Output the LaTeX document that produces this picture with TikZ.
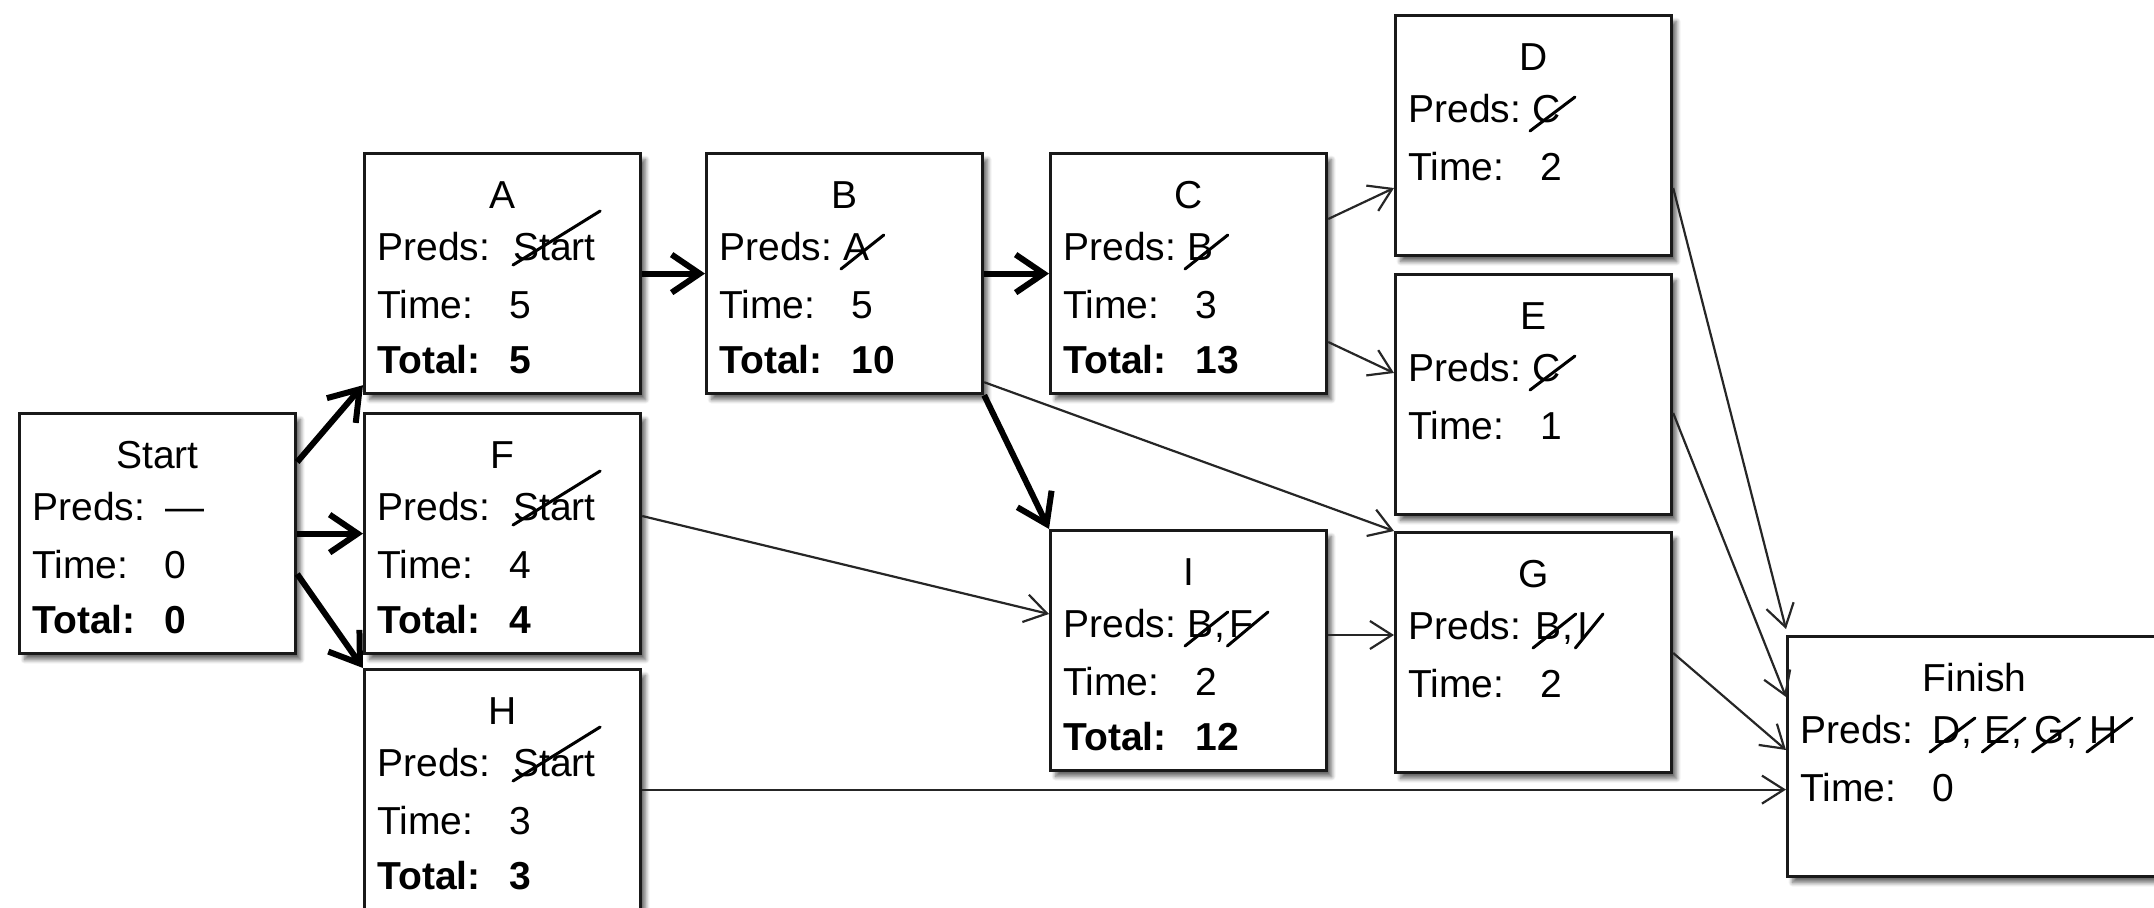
\documentclass[tikz,border=0pt]{standalone}
\usepackage{fontspec}
\setmainfont{Liberation Sans}
\usetikzlibrary{calc,arrows.meta,shadows.blur}

\newcommand\rowfont{\fontsize{19.5}{23}\selectfont}

\tikzset{
  taskbox/.style={rectangle, draw=black!90, line width=1.6pt, fill=white,
    inner sep=0pt, minimum width=138pt, minimum height=120pt, anchor=north west,
    blur shadow={shadow xshift=2.5pt, shadow yshift=-3pt, shadow blur steps=8, shadow opacity=60}},
  rowtext/.style={anchor=base west, inner sep=0pt, font=\rowfont},
  titletext/.style={anchor=base, inner sep=0pt, font=\rowfont},
  totaltext/.style={rowtext, font=\rowfont\bfseries},
  strk/.style={draw=black, line width=1.5pt, line cap=round},
  % a finished predecessor: one letter crossed by a slanted stroke
  xo/.style={rowtext, append after command={
      ([xshift=-1pt,yshift=-4.5pt]\tikzlastnode.base west) edge[strk]
      ([xshift=7pt,yshift=12.5pt]\tikzlastnode.base east)}},
  % the same for the longer word "Start"
  xoword/.style={rowtext, append after command={
      ([xshift=0pt,yshift=-2.5pt]\tikzlastnode.base west) edge[strk]
      ([xshift=2pt,yshift=24.5pt]\tikzlastnode.base east)}},
  crit/.style={draw=black, line width=3pt, -{Straight Barb[length=14pt,width=19pt]}},
  dep/.style={draw=black!85, line width=1.1pt, -{Straight Barb[length=11pt,width=14pt]}},
}

% box with its title and the two row labels
\newcommand\activity[5]{%
  \node[taskbox, minimum width=#4] (#1) at (#2,#3) {};
  \node[titletext] (#1-title) at ($(#1.north)+(0,56)$) {#5};
  \node[rowtext] (#1-preds) at ($(#1.north west)+(14,108)$) {Preds:};
  \node[rowtext] (#1-time) at ($(#1.north west)+(14,166)$) {Time:};}
\newcommand\timeonly[2]{%
  \node[rowtext] (#1-tv) at ($(#1.north west)+(146,166)$) {#2};}
\newcommand\timetotal[3]{%
  \timeonly{#1}{#2}%
  \node[totaltext] (#1-total) at ($(#1.north west)+(14,221)$) {Total:};
  \node[totaltext] (#1-tt) at ($(#1.north west)+(146,221)$) {#3};}
% first crossed predecessor, then further ones chained after a separator
\newcommand\predfirst[4]{%
  \node[xo] (#3) at ($(#1.north west)+(#2,108)$) {#4};}
\newcommand\prednext[4]{%
  \node[rowtext] (#3-sep) at (#1.base east) {#2};
  \node[xo] (#3) at (#3-sep.base east) {#4};}

\begin{document}
\begin{tikzpicture}[x=0.5pt,y=-0.5pt]
\clip (0,0) rectangle (2154,907);

% ---- activities ----
\activity{Start}{18}{412}{138pt}{Start}
\node[rowtext] (Start-p1) at ($(Start.north west)+(147,108)$) {—};
\timetotal{Start}{0}{0}

\activity{A}{363}{152}{138pt}{A}
\node[xoword] (A-p1) at ($(A.north west)+(150,108)$) {Start};
\timetotal{A}{5}{5}

\activity{F}{363}{412}{138pt}{F}
\node[xoword] (F-p1) at ($(F.north west)+(150,108)$) {Start};
\timetotal{F}{4}{4}

\activity{H}{363}{668}{138pt}{H}
\node[xoword] (H-p1) at ($(H.north west)+(150,108)$) {Start};
\timetotal{H}{3}{3}

\activity{B}{705}{152}{138pt}{B}
\predfirst{B}{138}{B-p1}{A}
\timetotal{B}{5}{10}

\activity{C}{1049}{152}{138pt}{C}
\predfirst{C}{138}{C-p1}{B}
\timetotal{C}{3}{13}

\activity{I}{1049}{529}{138pt}{I}
\predfirst{I}{138}{I-p1}{B}
\prednext{I-p1}{,\kern0.1em}{I-p2}{F}
\timetotal{I}{2}{12}

\activity{D}{1394}{14}{138pt}{D}
\predfirst{D}{138}{D-p1}{C}
\timeonly{D}{2}

\activity{E}{1394}{273}{138pt}{E}
\predfirst{E}{138}{E-p1}{C}
\timeonly{E}{1}

\activity{G}{1394}{531}{138pt}{G}
\predfirst{G}{141}{G-p1}{B}
\prednext{G-p1}{,\kern0.1em}{G-p2}{I}
\timeonly{G}{2}

\activity{Finish}{1786}{635}{187pt}{Finish}
\predfirst{Finish}{146}{Finish-p1}{D}
\prednext{Finish-p1}{,\kern0.3em}{Finish-p2}{E}
\prednext{Finish-p2}{,\kern0.3em}{Finish-p3}{G}
\prednext{Finish-p3}{,\kern0.3em}{Finish-p4}{H}
\timeonly{Finish}{0}

% ---- critical path ----
\draw[crit] ($(Start.north east)+(0,50)$) -- ($(A.south west)+(0,-10)$);
\draw[crit] (Start.east) -- (F.west);
\draw[crit] ($(Start.north east)+(0,162)$) -- (H.north west);
\draw[crit] (A.east) -- (B.west);
\draw[crit] (B.east) -- (C.west);
\draw[crit] (B.south east) -- (I.north west);

% ---- other dependencies ----
\draw[dep] ($(B.south east)+(0,-13)$) -- (G.north west);
\draw[dep] ($(F.north east)+(0,104)$) -- ($(I.north west)+(0,85)$);
\draw[dep] ($(C.north east)+(0,67)$) -- ($(D.north west)+(0,174)$);
\draw[dep] ($(C.north east)+(0,190)$) -- ($(E.north west)+(0,100)$);
\draw[dep] ($(I.north east)+(0,106)$) -- ($(G.north west)+(0,104)$);
\draw[dep] ($(D.north east)+(0,174)$) -- ($(Finish.north west)+(0,-6)$);
\draw[dep] ($(E.north east)+(0,140)$) -- ($(Finish.north west)+(0,62)$);
\draw[dep] ($(G.north east)+(0,122)$) -- ($(Finish.north west)+(0,115)$);
\draw[dep] (H.east) -- (H.east -| Finish.west);
\end{tikzpicture}
\end{document}
